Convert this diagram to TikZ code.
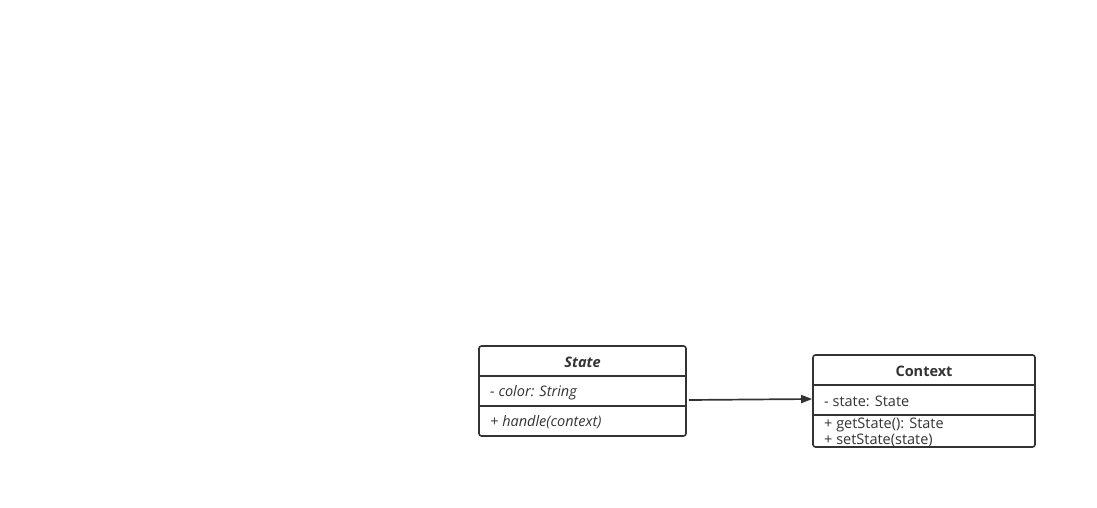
\documentclass[tikz,border=0pt]{standalone}
\usepackage{fontspec}
\setmainfont{Open Sans}
\usetikzlibrary{arrows.meta}
\definecolor{umlline}{HTML}{333333}
\tikzset{
  classbox/.style={draw=umlline, line width=1.6pt, rounded corners=2.5pt, inner sep=0pt},
  member/.style={anchor=west, inner sep=0pt, font=\fontsize{14.5}{16}\selectfont, text=umlline},
  title/.style={inner sep=0pt, font=\fontsize{14.5}{16}\selectfont\bfseries, text=umlline}
}
\begin{document}
\begin{tikzpicture}[x=1pt, y=-1pt]
\useasboundingbox (0,0) rectangle (1097,508);

% State
\node [classbox, minimum width=207pt, minimum height=90pt] (state) at (582.5,391) {};
\draw [umlline, line width=1.6pt] (479,376) -- (686,376);
\draw [umlline, line width=1.6pt] (479,406) -- (686,406);
\node [title] (statename) at (582.5,362) {\itshape State};
\node [member] (stateattr) at (490,392.5) {\itshape - color: String};
\node [member] (stateop) at (490,422.5) {\itshape + handle(context)};

% Context
\node [classbox, minimum width=222pt, minimum height=92pt] (context) at (924,401) {};
\draw [umlline, line width=1.6pt] (813,385) -- (1035,385);
\draw [umlline, line width=1.6pt] (813,415) -- (1035,415);
\node [title] (contextname) at (924,371) {Context};
\node [member] (contextattr) at (824,401.5) {- state: State};
\node [member] (contextop1) at (824,424.5) {+ getState(): State};
\node [member] (contextop2) at (824,440) {+ setState(state)};

\draw [umlline, line width=1.7pt, -{Triangle[length=11pt, width=8pt]}]
  ([xshift=2pt, yshift=-9pt]state.east) -- ([yshift=2pt]context.west);
\end{tikzpicture}
\end{document}
